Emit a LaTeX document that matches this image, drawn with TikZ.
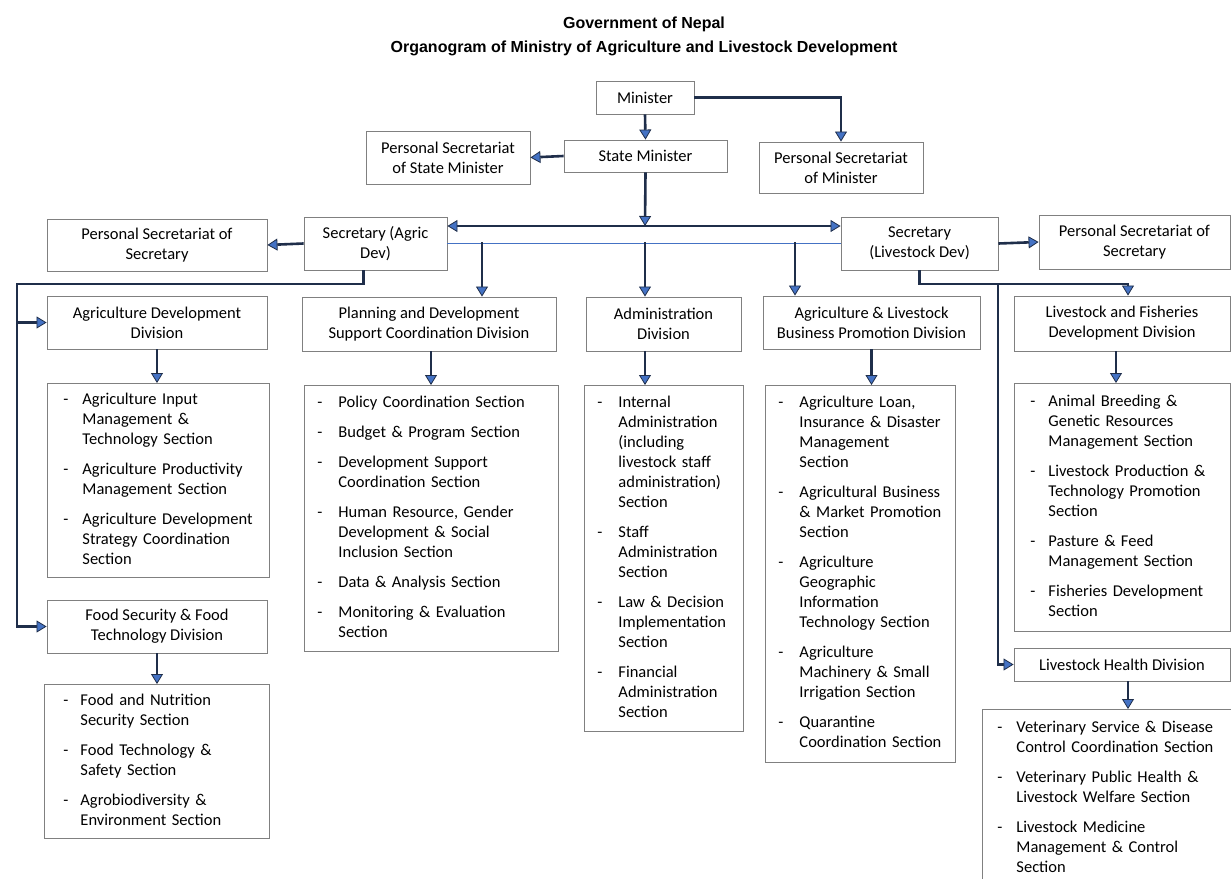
\documentclass[tikz,border=0pt]{standalone}
\usepackage{fontspec}
\setmainfont{Carlito}
\newfontfamily\titlefont{Liberation Sans}
\usetikzlibrary{arrows.meta,calc}
\definecolor{navy}{HTML}{1F2E4A}
\definecolor{ablue}{HTML}{4472C4}
\definecolor{bgray}{HTML}{808080}
\begin{document}
\begin{tikzpicture}[x=1pt,y=-1pt,
  btip/.tip={Triangle[width=12pt,length=10pt,fill=ablue,line width=0.8pt]},
  box/.style={draw=bgray, line width=0.9pt, fill=white, align=center, inner sep=0pt,
    font=\fontsize{16.5}{20}\selectfont},
  secbox/.style={draw=bgray, line width=0.9pt, fill=white, anchor=north west, align=left,
    inner ysep=0pt, font=\fontsize{16.5}{20}\selectfont},
  conn/.style={draw=navy, line width=2.6pt, -{btip}},
  dconn/.style={draw=navy, line width=2.6pt, {btip}-{btip}},
  thinblue/.style={draw=ablue, line width=1.2pt}
]
\useasboundingbox (0,0) rectangle (1231,878);
\clip (0,0) rectangle (1231,878);
\fill[white] (0,0) rectangle (1231,878);

% title
\node[align=center, font=\titlefont\bfseries\fontsize{16}{24}\selectfont] (title) at (644,36)
  {Government of Nepal\\Organogram of Ministry of Agriculture and Livestock Development};

% top boxes
\node[box, minimum width=98, minimum height=33] (minister) at (645,97.5) {Minister};
\node[box, minimum width=163, minimum height=32] (state) at (645.5,156) {State Minister};
\node[box, minimum width=164, minimum height=53] (psstate) at (448,157.5) {Personal Secretariat\\of State Minister};
\node[box, minimum width=164, minimum height=51] (psmin) at (841,167.5) {Personal Secretariat\\of Minister};

\node[box, minimum width=143, minimum height=53] (secag) at (375.5,243.5) {Secretary (Agric\\Dev)};
\node[box, minimum width=220, minimum height=52] (pssecL) at (157,245) {Personal Secretariat of\\Secretary};
\node[box, minimum width=157, minimum height=53] (secls) at (919.5,243.5) {Secretary\\(Livestock Dev)};
\node[box, minimum width=191, minimum height=54] (pssecR) at (1134.5,242) {Personal Secretariat of\\Secretary};

% divisions
\node[box, minimum width=220, minimum height=53] (agdiv) at (157,322.5) {Agriculture Development\\Division};
\node[box, minimum width=220, minimum height=53] (fooddiv) at (157,626.5) {Food Security \& Food\\Technology Division};
\node[box, minimum width=254, minimum height=54] (plandiv) at (429,324) {Planning and Development\\Support Coordination Division};
\node[box, minimum width=155, minimum height=54] (admdiv) at (663.5,324) {Administration\\Division};
\node[box, minimum width=217, minimum height=53] (busdiv) at (871.5,322.5) {Agriculture \& Livestock\\Business Promotion Division};
\node[box, minimum width=216, minimum height=55] (lfdiv) at (1122,323.5) {Livestock and Fisheries\\Development Division};
\node[box, minimum width=216, minimum height=33] (lhdiv) at (1122,664.5) {Livestock Health Division};

% section boxes
\node[secbox, inner xsep=16pt, text width=190pt, minimum height=194] (agsec) at (47,383)
{\begin{tabular}{@{}p{19pt}@{}l@{}}
- & Agriculture Input\\ & Management \&\\ & Technology Section\\[10pt]
- & Agriculture Productivity\\ & Management Section\\[10pt]
- & Agriculture Development\\ & Strategy Coordination\\ & Section
\end{tabular}};

\node[secbox, inner xsep=19pt, text width=187pt, minimum height=154] (foodsec) at (44,684)
{\begin{tabular}{@{}p{17pt}@{}l@{}}
- & Food and Nutrition\\ & Security Section\\[10pt]
- & Food Technology \&\\ & Safety Section\\[10pt]
- & Agrobiodiversity \&\\ & Environment Section
\end{tabular}};

\node[secbox, inner xsep=13pt, text width=228pt, minimum height=266] (plansec) at (304,385)
{\begin{tabular}{@{}p{21pt}@{}l@{}}
- & Policy Coordination Section\\[10pt]
- & Budget \& Program Section\\[10pt]
- & Development Support\\ & Coordination Section\\[10pt]
- & Human Resource, Gender\\ & Development \& Social\\ & Inclusion Section\\[10pt]
- & Data \& Analysis Section\\[10pt]
- & Monitoring \& Evaluation\\ & Section
\end{tabular}};

\node[secbox, inner xsep=13pt, text width=133pt, minimum height=346] (admsec) at (584,385)
{\begin{tabular}{@{}p{21pt}@{}l@{}}
- & Internal\\ & Administration\\ & (including\\ & livestock staff\\ & administration)\\ & Section\\[10pt]
- & Staff\\ & Administration\\ & Section\\[10pt]
- & Law \& Decision\\ & Implementation\\ & Section\\[10pt]
- & Financial\\ & Administration\\ & Section
\end{tabular}};

\node[secbox, inner xsep=13pt, text width=164pt, minimum height=377] (bussec) at (765,385)
{\begin{tabular}{@{}p{21pt}@{}l@{}}
- & Agriculture Loan,\\ & Insurance \& Disaster\\ & Management\\ & Section\\[10pt]
- & Agricultural Business\\ & \& Market Promotion\\ & Section\\[10pt]
- & Agriculture\\ & Geographic\\ & Information\\ & Technology Section\\[10pt]
- & Agriculture\\ & Machinery \& Small\\ & Irrigation Section\\[10pt]
- & Quarantine\\ & Coordination Section
\end{tabular}};

\node[secbox, inner xsep=16pt, text width=184pt, minimum height=248] (lfsec) at (1014,383)
{\begin{tabular}{@{}p{18pt}@{}l@{}}
- & Animal Breeding \&\\ & Genetic Resources\\ & Management Section\\[10pt]
- & Livestock Production \&\\ & Technology Promotion\\ & Section\\[10pt]
- & Pasture \& Feed\\ & Management Section\\[10pt]
- & Fisheries Development\\ & Section
\end{tabular}};

\node[secbox, inner xsep=15pt, text width=240pt, minimum height=178] (lhsec) at (982,709)
{\begin{tabular}{@{}p{19pt}@{}l@{}}
- & Veterinary Service \& Disease\\ & Control Coordination Section\\[10pt]
- & Veterinary Public Health \&\\ & Livestock Welfare Section\\[10pt]
- & Livestock Medicine\\ & Management \& Control\\ & Section
\end{tabular}};

% coordinates
\coordinate (hub) at (645,226);
\coordinate (bl1) at (482,242);
\coordinate (bl2) at (645,242);
\coordinate (bl3) at (795,242);
\coordinate (lt) at (17,284);
\coordinate (rt) at (998,284);
\coordinate (rt2) at (1128,284);

% connectors
\draw[conn] (minister.south) -- (state.north);
\draw[conn] (minister.east) -| (psmin.north);
\draw[conn] (state.west) -- (psstate.east);
\draw[conn] (state.south) -- (hub);
\draw[dconn] (secag.east |- hub) -- (secls.west |- hub);
\draw[thinblue] (secag.east) -- (secls.west);
\draw[conn] (bl1) -- (bl1 |- plandiv.north);
\draw[conn] (bl2) -- (bl2 |- admdiv.north);
\draw[conn] (bl3) -- (bl3 |- busdiv.north);
\draw[conn] (secag.west) -- (pssecL.east);
\draw[conn] (secls.east) -- (pssecR.west);

\draw[conn] ($(secag.south)+(-12,0)$) |- (lt) |- (fooddiv.west);
\draw[conn] (lt |- agdiv.west) -- (agdiv.west);
\draw[conn] (secls.south) |- (rt2) -- (rt2 |- lfdiv.north);
\draw[conn] (rt) |- (lhdiv.west);

\draw[conn] (agdiv.south) -- (agdiv.south |- agsec.north);
\draw[conn] (fooddiv.south) -- (fooddiv.south |- foodsec.north);
\draw[conn] ($(plandiv.south)+(2,0)$) -- ($(plandiv.south |- plansec.north)+(2,0)$);
\draw[conn] (bl2 |- admdiv.south) -- (bl2 |- admsec.north);
\draw[conn] (busdiv.south) -- (busdiv.south |- bussec.north);
\draw[conn] ($(lfdiv.south)+(-6,0)$) -- ($(lfdiv.south |- lfsec.north)+(-6,0)$);
\draw[conn] ($(lhdiv.south)+(6,0)$) -- ($(lhdiv.south |- lhsec.north)+(6,0)$);
\end{tikzpicture}
\end{document}
